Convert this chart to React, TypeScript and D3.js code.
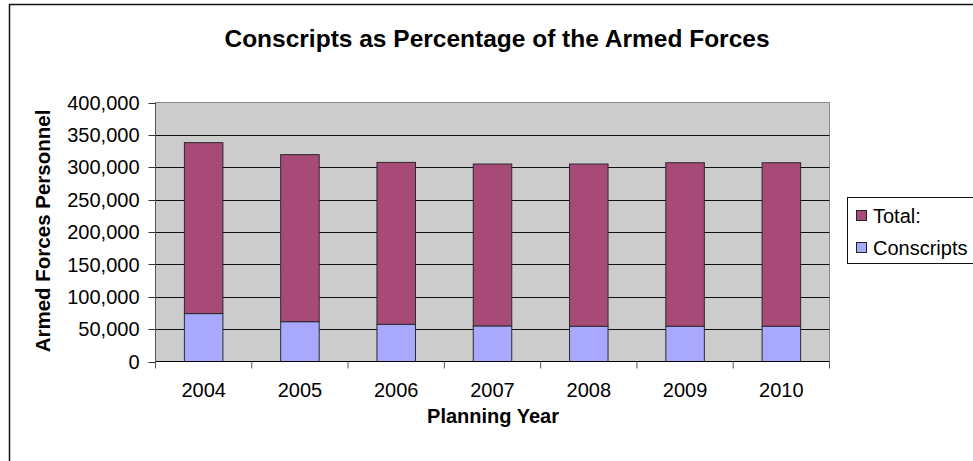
import React from "react";
import * as d3 from "d3";

// Planning years and personnel per series (stacked: conscripts at the base, remainder on top)
const years = ["2004", "2005", "2006", "2007", "2008", "2009", "2010"];
const conscripts = [74000, 61500, 57500, 55000, 54500, 54500, 54500];
const totalSeg = [264000, 258000, 250000, 250000, 250500, 252500, 252500];
const yTicks = [0, 50000, 100000, 150000, 200000, 250000, 300000, 350000, 400000];

const seriesKeys = ["conscripts", "total"];
const legendKeys = ["total", "conscripts"];
const seriesNames: Record<string, string> = { total: "Total:", conscripts: "Conscripts" };
const seriesColors: Record<string, string> = { total: "#A84A78", conscripts: "#A8A8FF" };

const W = 973;
const H = 461;
const plot = { left: 155.5, right: 829.5, top: 102.5, bottom: 361.5 };
const FONT = "'Liberation Sans', Arial, sans-serif";

export default function App() {
  const rows = years.map((y, i) => ({ year: y, conscripts: conscripts[i], total: totalSeg[i] }));
  const stacked = d3.stack<any>().keys(seriesKeys)(rows);

  const x = d3.scaleBand().domain(years).range([plot.left, plot.right]).paddingInner(0.6).paddingOuter(0.3);
  const xBand = d3.scaleBand().domain(years).range([plot.left, plot.right]);
  const y = d3.scaleLinear().domain([0, 400000]).range([plot.bottom, plot.top]);
  const fmt = d3.format(",");
  const py = (v: number) => Math.round(y(v)) + 0.5;

  return (
    <svg width={W} height={H} style={{ position: "absolute", left: 0, top: 0, background: "#fff" }} fontFamily={FONT}>
      {/* chart area border */}
      <rect x={9.5} y={4.5} width={W + 20} height={H + 20} fill="#fff" stroke="#111" strokeWidth={1.5} />

      <text x={497} y={47} textAnchor="middle" fontSize={24.5} fontWeight="bold" fill="#000">
        Conscripts as Percentage of the Armed Forces
      </text>

      {/* plot area */}
      <rect x={plot.left} y={plot.top} width={plot.right - plot.left} height={plot.bottom - plot.top} fill="#CCCCCC" stroke="#8a8a8a" strokeWidth={1} />
      {yTicks.slice(1, -1).map((t) => (
        <line key={t} x1={plot.left} x2={plot.right} y1={py(t)} y2={py(t)} stroke="#111" strokeWidth={1} />
      ))}

      {/* stacked bars */}
      {stacked.map((s) =>
        s.map((d, i) => (
          <rect
            key={s.key + i}
            x={x(years[i])}
            y={y(d[1])}
            width={x.bandwidth()}
            height={y(d[0]) - y(d[1])}
            fill={seriesColors[s.key]}
            stroke="#2a2a2a"
            strokeWidth={1}
          />
        ))
      )}

      {/* value axis */}
      <line x1={plot.left} x2={plot.left} y1={plot.top} y2={plot.bottom} stroke="#555" />
      {yTicks.map((t) => (
        <g key={t}>
          <line x1={plot.left - 7} x2={plot.left} y1={py(t)} y2={py(t)} stroke="#333" />
          <text x={139.5} y={y(t)} dy="0.36em" textAnchor="end" fontSize={20} fill="#000">
            {fmt(t)}
          </text>
        </g>
      ))}

      {/* category axis */}
      <line x1={plot.left} x2={plot.right} y1={plot.bottom} y2={plot.bottom} stroke="#000" />
      {years.concat([""]).map((yr, i) => {
        const xp = i < years.length ? (xBand(yr) as number) : plot.right;
        return <line key={"t" + i} x1={xp} x2={xp} y1={plot.bottom} y2={plot.bottom + 7} stroke="#555" />;
      })}
      {years.map((yr) => (
        <text key={yr} x={(xBand(yr) as number) + xBand.bandwidth() / 2} y={397} textAnchor="middle" fontSize={20} fill="#000">
          {yr}
        </text>
      ))}

      <text x={493} y={423} textAnchor="middle" fontSize={20} fontWeight="bold" fill="#000">
        Planning Year
      </text>
      <text transform="translate(50,231) rotate(-90)" textAnchor="middle" fontSize={20.5} fontWeight="bold" fill="#000">
        Armed Forces Personnel
      </text>

      {/* legend */}
      <rect x={847.5} y={197.5} width={160} height={66} fill="#fff" stroke="#111" />
      {legendKeys.map((k, i) => (
        <g key={k} transform={`translate(856,${216 + i * 32})`}>
          <rect x={0.5} y={-5.5} width={10} height={10} fill={seriesColors[k]} stroke="#222" />
          <text x={17} y={0} dy="0.36em" fontSize={20} fill="#000">
            {seriesNames[k]}
          </text>
        </g>
      ))}
    </svg>
  );
}
